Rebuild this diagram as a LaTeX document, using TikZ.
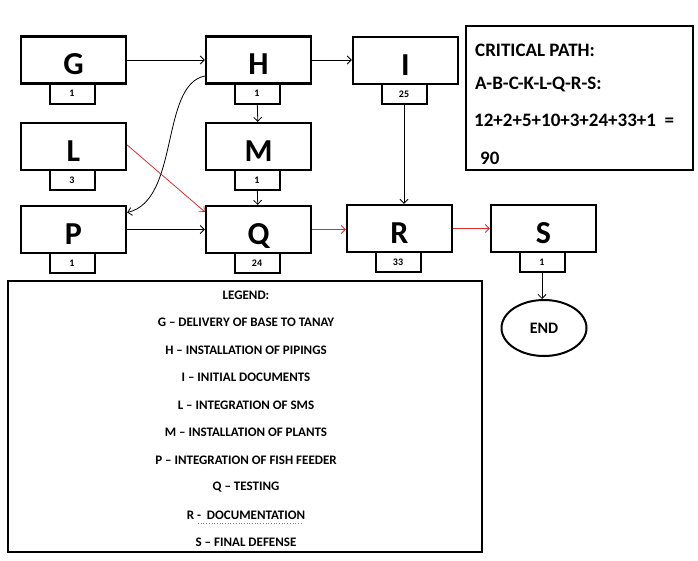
\documentclass[tikz,border=0pt]{standalone}
\usepackage{fontspec}
\setmainfont{Carlito}
\usetikzlibrary{positioning,arrows.meta,shapes.geometric}
\definecolor{critred}{RGB}{222,45,45}
\tikzset{
  task/.style={draw, line width=2.4pt, minimum width=105pt, minimum height=47pt, inner sep=0pt, text height=29pt, text depth=0pt, font=\bfseries\fontsize{32}{32}\selectfont},
  dur/.style={draw, line width=2pt, minimum width=45pt, minimum height=20pt, inner sep=0pt, font=\bfseries\fontsize{10}{10}\selectfont},
  arr/.style={line width=0.8pt, -{Straight Barb[length=4pt,width=8pt]}},
  frame/.style={line width=2.2pt},
  legtext/.style={font=\bfseries\fontsize{13}{13}\selectfont, inner sep=0pt},
  cptext/.style={font=\bfseries\fontsize{19}{19}\selectfont, inner sep=0pt, anchor=base west}
}
\begin{document}
\begin{tikzpicture}[x=1pt,y=-1pt]
\useasboundingbox (0,0) rectangle (698,560);
% activity boxes with durations
\foreach \n/\x/\y/\d in {G/73.5/60/1, H/258.5/60/1, I/405.5/60.5/25, L/73.5/146.5/3, M/258.5/146.5/1, P/73.5/229.5/1, Q/258.5/229.5/24, R/399.5/228.5/33, S/543.5/228.5/1}{
  \node[task] (\n) at (\x,\y) {\n};
  \node[dur, below=-2pt of \n, xshift=-1.5pt] (\n d) {\d};
}
\node[draw, ellipse, line width=2pt, minimum width=85pt, minimum height=56pt, font=\bfseries\fontsize{16}{16}\selectfont] (end) at (544,328) {END};
%
\draw[arr] (G) -- (H);
\draw[arr] (H.east) -- (H.east -| I.west);
\draw[arr] (Hd) -- (M);
\draw[arr] (Md) -- (Q);
\draw[arr] (Id) -- (Id |- R.north);
\draw[arr] (P) -- (Q);
\draw[arr] ([yshift=-16pt]H.west) .. controls (160,85) and (180,200) .. ([yshift=17pt]P.east);
\draw[arr, critred] ([yshift=1.5pt]L.east) -- ([yshift=-7pt]Q.north west);
\draw[arr, critred] (Q.east) -- (Q.east -| R.west);
\draw[arr, critred] (R) -- (S);
\draw[arr] (Sd.south) -- (Sd.south |- end.north);
%
\draw[frame] (466,26) rectangle (693,170);
\node[cptext] (cp1) at (475,56) {CRITICAL PATH:};
\node[cptext] (cp2) at (475,89) {A-B-C-K-L-Q-R-S:};
\node[cptext] (cp3) at (474,126) {12+2+5+10+3+24+33+1~ =};
\node[cptext] (cp4) at (480,164) {90};
%
\draw[frame] (8,281) rectangle (482,552);
\foreach \i/\t in {0/LEGEND:, 1/G -- DELIVERY OF BASE TO TANAY, 2/H -- INSTALLATION OF PIPINGS, 3/I -- INITIAL DOCUMENTS, 4/L -- INTEGRATION OF SMS, 5/M -- INSTALLATION OF PLANTS, 6/P -- INTEGRATION OF FISH FEEDER, 7/Q -- TESTING, 8/R -~ DOCUMENTATION, 9/S -- FINAL DEFENSE}
  \node[legtext] (leg\i) at (246,295+27.5*\i) {\t};
\draw[green!55!black!70, dotted, line width=0.7pt] (198,523) -- (303,523);
\end{tikzpicture}
\end{document}
